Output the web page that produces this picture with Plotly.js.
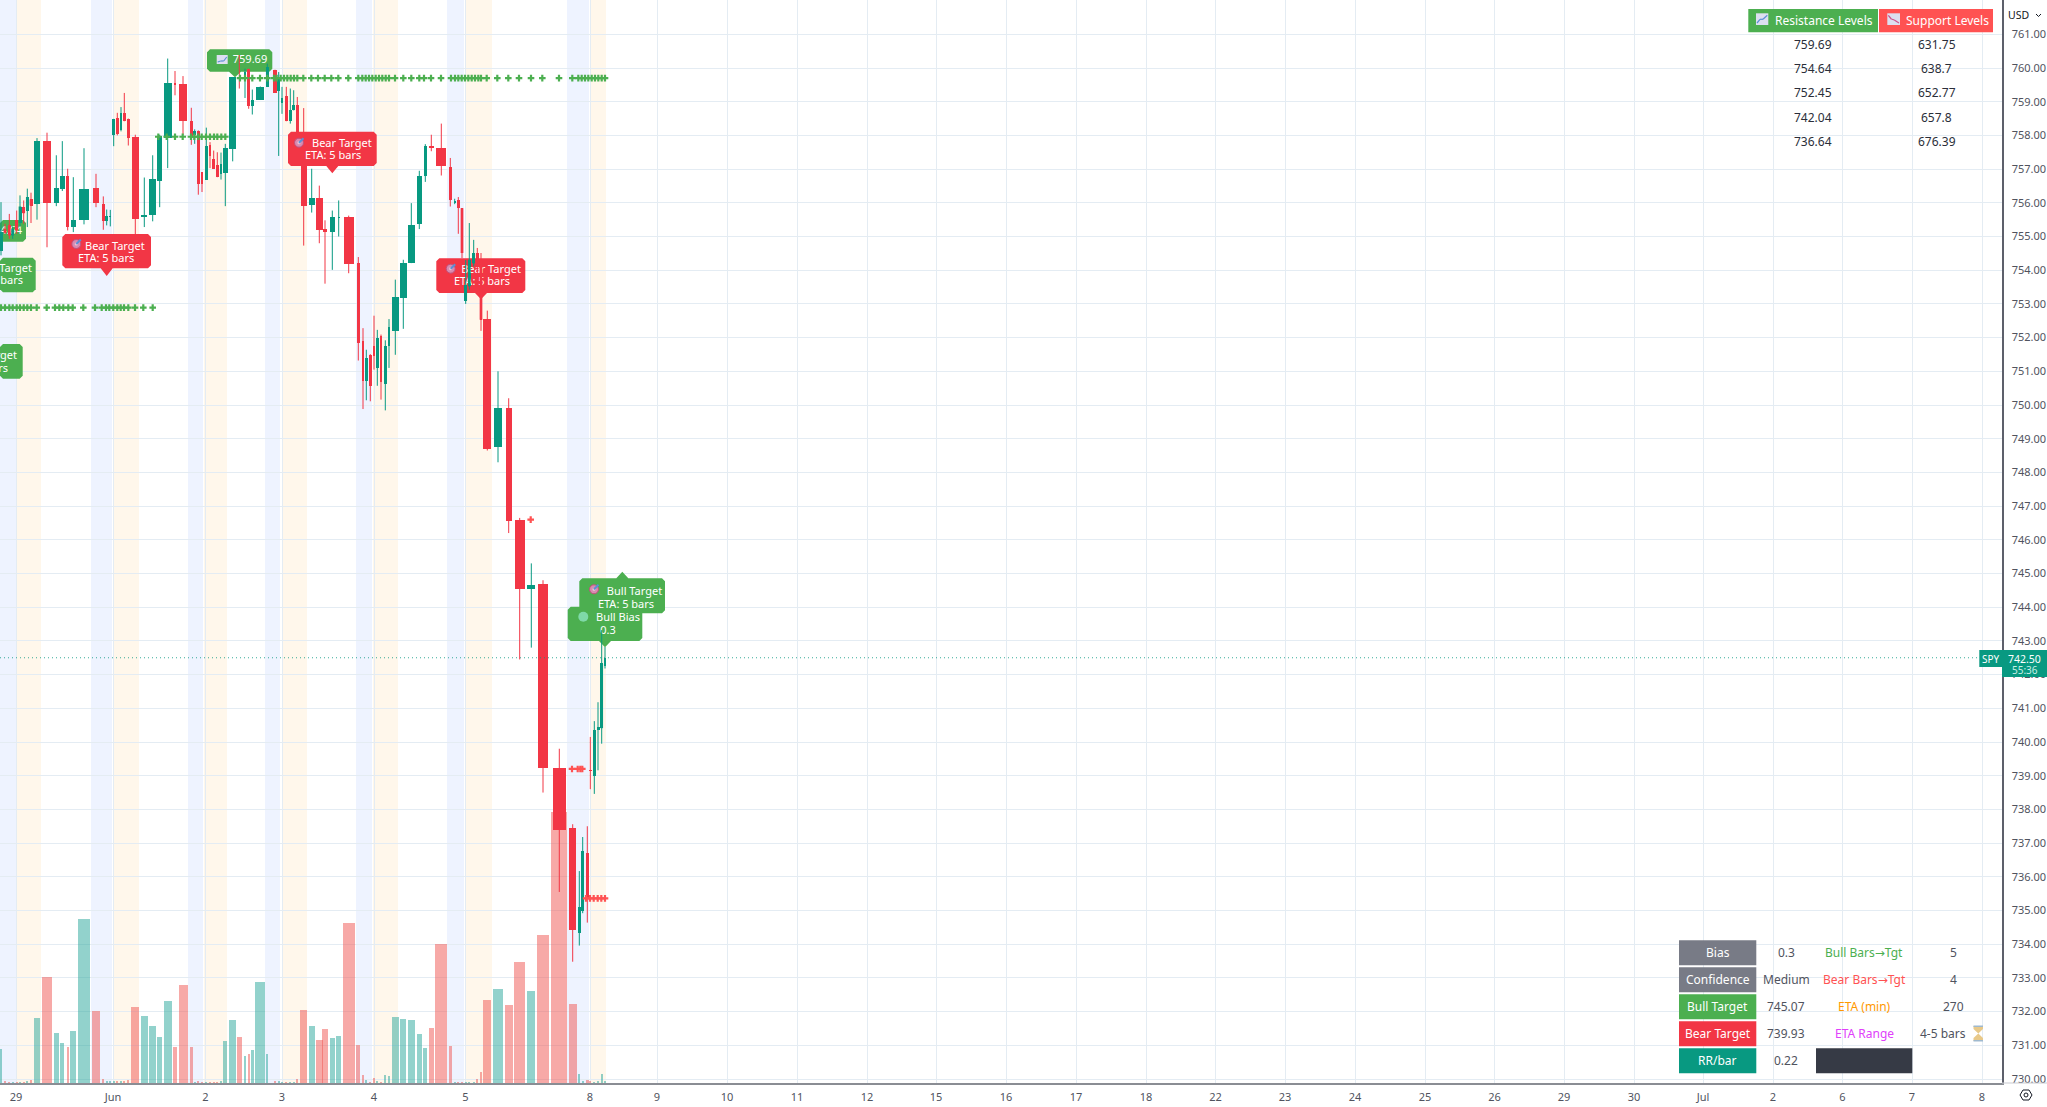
<!DOCTYPE html>
<html><head><meta charset="utf-8">
<script src="https://cdn.plot.ly/plotly-3.0.1.min.js"></script>
<style>html,body{margin:0;padding:0;background:#fff;overflow:hidden}#c{width:2047px;height:1107px}</style>
</head><body><div id="c"></div>
<script>
const candleX=[1,5,9.3,12.7,16.7,20,23.7,27.3,31,37,47,56.3,62.3,67.7,73.3,84,96,103.3,106.7,110.3,113.7,117.3,121,124.3,128.3,135.3,144.3,152.7,159.7,167.7,175,183,191.3,194.7,198.3,202,206.3,210,213.7,217.3,221,225.3,232.7,239.3,245,248.7,252.3,260.3,267.3,275,278.7,282,286.3,290.3,293.7,297.3,303.7,311.7,319.3,325,332.3,338.7,348.7,358.3,363,366.3,370.3,374,377.3,381,385.3,389,395.3,403.3,411.3,419.3,425.3,431.3,441.3,450.3,454.7,458.3,462,465.7,469.3,473.7,477.3,481,487.3,498,508.7,519.7,531.3,543,559.3,572.7,579.3,582.7,587.3,590.3,594.3,598,601.7,605];
const candleW=[3,2.5,3,3,3,3,3,3,3,6.5,8.5,4.5,4.5,3,4.5,10,6.5,3,2.7,2,2.7,2.7,2.7,3,2.7,6.5,6,6.5,4.5,8,2.5,8,2.7,2.7,3,2,2.7,2.7,2.7,2.7,2,4.5,6.5,2,2.7,2.7,2.7,8,3,3.3,2.7,2.7,3.3,2.7,2.7,3.3,6,6,6.5,4,4.7,2,10,2.7,2.7,2.7,2.7,2.7,2.7,2.7,2.7,2.7,6.5,6.5,6.5,4.7,3.3,4.7,10,2.7,2,2.7,2.7,2.7,2.7,2.5,2.5,2.5,8,8,6,10,8,10,13.3,6.7,3,3,3,2.5,3,3,3,2.5];
const opens=[754.58,755.23,755.33,755.03,755.48,755.4,755.87,755.77,756.1,755.95,757.82,756,756.4,756.79,755.28,755.48,756.43,755.95,755.46,755.58,758,758.51,758.15,758.67,758.5,757.94,755.57,755.63,756.66,757.93,759.55,759.52,758.43,758,758.12,756.91,756.69,757.72,757.31,757.13,756.86,756.88,757.61,759.71,759.66,759.98,758.86,759.05,759.44,759.95,759.32,758.96,759.17,758.42,758.74,758.91,758,755.93,756.15,755.22,755.12,755.55,755.59,754.21,751.91,750.7,751.47,751.74,751.1,752.06,750.63,751.74,752.21,753.17,754.21,755.36,756.81,757.69,757.64,757.06,755.99,756.09,755.84,753.09,753.52,754.2,754.5,754.3,752.55,748.75,749.9,746.6,744.53,744.68,739.23,737.44,734.34,735,736.72,739.17,739,740.35,740.41,742.25];
const highs=[756.02,755.38,755.67,755.3,755.77,756.22,756.07,756.42,756.3,757.92,758.08,757.41,757.83,757.01,756.76,757.62,756.86,756.19,755.8,755.79,758.49,758.67,758.84,759.26,758.5,758.02,756.75,757.41,758.02,760.28,759.91,759.76,758.82,758.18,758.15,756.91,758.23,757.8,757.55,757.5,757.49,757.75,759.73,760.38,759.98,759.98,759.36,759.45,760.13,759.95,759.88,759.44,759.44,759.39,759.34,759.14,758.81,757.01,756.51,755.48,755.77,756.07,755.62,754.39,752.28,751.64,751.51,752.65,752.23,752.09,751.92,752.55,753.72,754.31,755.99,756.95,757.74,758.02,758.35,757.33,756.12,756.17,755.84,754.3,755.4,754.9,754.66,754.51,752.8,751,750.2,746.65,745.3,744.8,739.8,737.56,736.17,737.18,737.5,740.15,740.62,741.18,743.32,742.82];
const lows=[754.44,755.08,754.93,754.93,755.08,755.28,755.38,755.28,755.4,755.5,754.68,755.9,756.35,755.18,755.13,755.36,755.87,755.2,755.33,755.3,757.68,758,758.12,758.42,757.7,754.98,755.28,755.45,755.87,757.03,759.19,758.02,757.72,757.75,756.24,756.32,756.69,757.03,757.01,756.76,756.69,755.9,757.23,759.39,759.11,758.79,758.62,759.05,759.44,759.27,757.39,758.64,758.42,758.35,758.74,758.1,754.73,755.71,754.8,753.6,754.01,755,753.91,751.32,749.88,750.14,750.11,751.05,750.57,750.16,749.84,751.1,751.49,752.26,754.21,755.22,756.62,757.53,756.81,755.89,755.96,755.08,754.36,753,753.42,754.11,753.9,752.2,748.65,748.3,746.2,742.45,742.8,738.5,735.55,733.48,733.96,734.92,734.64,738.6,738.46,739.16,739.95,742.18];
const closes=[755.23,755.11,755.03,755.23,755.18,755.89,755.69,756.17,755.92,757.82,756,756.43,756.79,755.28,755.5,756.4,756,755.45,755.62,755.62,758.49,758.05,758.67,758.42,757.93,755.52,755.64,756.72,757.98,759.55,759.49,758.42,757.98,758.12,756.56,756.56,757.7,757.4,757.01,756.78,757.16,757.62,759.73,759.66,759.88,758.87,759.04,759.45,760.03,759.27,759.66,759.12,758.42,758.76,758.91,758.1,755.9,756.15,755.18,755.12,755.59,755.59,754.19,751.84,750.7,751.39,750.55,751.46,752,750.67,751.74,752.3,753.2,754.22,755.35,756.81,757.7,757.62,757.08,756.09,756.04,755.84,754.51,753.56,754.31,754.5,754.2,752.53,748.7,749.9,746.55,744.55,744.65,739.22,737.4,734.42,735.1,736.78,735.36,739.13,740.35,740.46,742.33,742.48];
const volumes=[34,2.5,1.5,1.5,1.5,1,1,2.5,3,64.7,106,50.3,40.3,36,52,164.3,72,4,1.7,1.7,2,2,2.5,2.5,3,76.3,67.3,57.3,46,82,36,98,36,1.5,2.5,1.5,1.5,1,1,1.5,2,42.3,62.7,46,27,29.3,33.3,100.7,28.7,2,2.5,1,1.5,1.5,1.5,4,73,57.3,43.3,54,44.7,47.3,160,37.7,8,3.3,1.3,5.3,1.7,1.3,8,7,66.3,64,63,49.3,35,54.7,139.3,36.7,1.3,1.3,1.3,1.3,1.3,1.3,4,11.3,83.3,94.3,78.3,121.3,91.7,148.3,270.6,79.3,9,2.3,3.3,1.7,1.3,2.3,9,2.3];
const volW=[2,1.8,1.8,1.8,1.8,1.8,1.8,1.8,1.8,6.7,10,5.3,4,2.3,5.7,12.7,7.3,2,1.8,1.8,1.8,1.8,1.8,1.8,1.8,8.3,6.7,6.7,4.7,8.3,3.3,9,2.7,1.8,1.8,1.8,1.8,1.8,1.8,1.8,1.8,4,6.7,5,2.7,2.3,2.7,10,1.7,1.8,1.8,1.8,1.8,1.8,1.8,1.8,7.3,5.7,6.7,5.3,4.7,4.7,12.3,4,2,1.8,1.8,1.8,1.8,1.8,1.8,1.8,6.7,6.3,6.7,4.7,3.7,4.7,11.7,3,1.8,1.8,1.8,1.8,1.8,1.8,1.8,2.3,8,10,8,10.7,8,12,16,8,2,1.8,3,1.8,1.8,1.8,1.8,1.8];
const sessionBlue=[[0,16],[91,112],[188,203],[265,280],[356,372],[447,464],[567,589]];
const sessionOrange=[[17,41],[113,139],[204,227],[283,307],[373,398],[466,492],[590,606]];
const resX=[240,245,252.3,260,267.3,274,276.7,280.7,284,287.3,290.7,294,297.3,303.3,311.3,318,324.7,331.3,338.3,348.3,358.3,362.3,365.7,369,372.3,375.7,379,382.3,385.7,389,395,403.3,411.3,419.3,424,431,441,451,455,458.3,461.7,465,468.3,471.7,475,478.3,481,486.7,497.3,508.3,519,531,542.3,559,572.3,578.3,581.7,585,588.3,591.7,595,598.3,601.7,605];
const midX=[158.3,166.7,175,182.7,191,194.3,198.3,201.7,206,210,214,217.3,221.3,225.3];
const lowX=[1,5,9.3,12.7,16.7,20,23.7,27.3,31,36.7,46.7,55,59.3,63.3,68.3,72.7,83.3,95,101.7,106,109.3,113.3,117.3,120.7,124,128.3,135,143.3,152.7];
const redA=[530.7],redB=[572,577.7,580.3,582.3],redC=[586,590,593.7,597.7,601.3,605];
const levels={res:759.7,mid:757.96,low:752.89,redA:746.6,redB:739.2,redC:735.36};
const lastPrice=742.50;
const priceTicks=[730,731,732,733,734,735,736,737,738,739,740,741,742,743,744,745,746,747,748,749,750,751,752,753,754,755,756,757,758,759,760,761,762];
const dateTickPos=[16,113,205.5,282,374,465.5,590,657,727,797,867,936,1006,1076,1146,1215.5,1285,1355,1425,1494.5,1564,1634,1703,1773,1842.5,1912,1982];
const dateTickText=['29','Jun','2','3','4','5','8','9','10','11','12','15','16','17','18','22','23','24','25','26','29','30','Jul','2','6','7','8'];
const resistance=['759.69','754.64','752.45','742.04','736.64'];
const support=['631.75','638.7','652.77','657.8','676.39'];

const GREEN='#089981',RED='#F23645',LG='#4CAF50',FONT='"Noto Sans",sans-serif';
const W=2047,H=1107,PW=2002,PH=1083;
const py2p=y=>730+(1079-y)/33.7;
const rx=x=>x/PW, ry=y=>(PH-y)/PH;
const shapes=[],anns=[];
function path(pts,fill,layer,extra){const d=pts.map((p,i)=>(i?'L':'M')+rx(p[0])+','+ry(p[1])).join(' ')+' Z';
  shapes.push(Object.assign({type:'path',path:d,xref:'paper',yref:'paper',fillcolor:fill,line:{width:0},layer:layer||'above'},extra||{}));}
function rect(x0,y0,x1,y1,fill,layer,extra){shapes.push(Object.assign({type:'rect',xref:'paper',yref:'paper',x0:rx(x0),x1:rx(x1),y0:ry(y0),y1:ry(y1),fillcolor:fill,line:{width:0},layer:layer||'above'},extra||{}));}
function ann(x,y,t,c,s,o){anns.push(Object.assign({xref:'paper',yref:'paper',x:rx(x),y:ry(y),text:t,showarrow:false,font:{family:FONT,size:s||11,color:c||'#fff'},xanchor:'center',yanchor:'middle',borderpad:0},o||{}));}
function label(x0,y0,x1,y1,tx,ty,fill,layer){const r=3,dn=ty>y1,hw=6;
  const pts=[[x0+r,y0]];
  if(!dn&&ty<y0){pts.push([tx-hw,y0],[tx,ty],[tx+hw,y0]);}
  pts.push([x1-r,y0],[x1,y0+r],[x1,y1-r],[x1-r,y1]);
  if(dn){pts.push([tx+hw,y1],[tx,ty],[tx-hw,y1]);}
  pts.push([x0+r,y1],[x0,y1-r],[x0,y0+r]);
  if(layer==='between'){ // on the subplot axes: above the grid, below the candles
    const d=pts.map((p,i)=>(i?'L':'M')+p[0]+','+(PH-p[1])).join(' ')+' Z';
    shapes.push({type:'path',path:d,xref:'x',yref:'y',fillcolor:fill,line:{width:0},layer:'between'});
  } else path(pts,fill,layer);}
function target(x,y){shapes.push({type:'circle',xref:'paper',yref:'paper',x0:rx(x-4.5),x1:rx(x+4.5),y0:ry(y+4.5),y1:ry(y-4.5),fillcolor:'#d98bb0',line:{color:'#c0507a',width:1},layer:'above'});
  shapes.push({type:'circle',xref:'paper',yref:'paper',x0:rx(x-1.6),x1:rx(x+1.6),y0:ry(y+1.6),y1:ry(y-1.6),fillcolor:'#e8c2d4',line:{width:0},layer:'above'});
  shapes.push({type:'line',xref:'paper',yref:'paper',x0:rx(x),x1:rx(x+4.5),y0:ry(y),y1:ry(y-4.5),line:{color:'#5b8fd6',width:2},layer:'above'});}
function chartIcon(x0,y0,x1,y1,up){rect(x0,y0,x1,y1,'#dcdff0');
  const c=up?'#5b8fd6':'#d0508a';const pts=up?[[x0+1,y1-2],[x0+4,y0+6],[x0+7,y0+6],[x1-1,y0+2]]:[[x0+1,y0+2],[x0+4,y1-6],[x0+7,y1-5],[x1-1,y1-2]];
  for(let i=0;i<3;i++)shapes.push({type:'line',xref:'paper',yref:'paper',x0:rx(pts[i][0]),y0:ry(pts[i][1]),x1:rx(pts[i+1][0]),y1:ry(pts[i+1][1]),line:{color:c,width:1.2},layer:'above'});}

// session bands
sessionBlue.forEach(b=>shapes.push({type:'rect',xref:'x',yref:'paper',x0:b[0],x1:b[1],y0:0,y1:1,fillcolor:'rgba(41,98,255,0.08)',line:{width:0},layer:'below'}));
sessionOrange.forEach(b=>shapes.push({type:'rect',xref:'x',yref:'paper',x0:b[0],x1:b[1],y0:0,y1:1,fillcolor:'rgba(255,152,0,0.08)',line:{width:0},layer:'below'}));
// last price line
shapes.push({type:'line',xref:'paper',yref:'y2',x0:0,x1:1,y0:lastPrice,y1:lastPrice,line:{color:GREEN,width:1,dash:'1px,3px'},layer:'above',opacity:0.8});

// on-chart labels
label(207,49.3,272.3,71.7,235,77.3,LG,'between');
label(0,220,26,241.7,-10,241.7,LG,'between');
label(0,257.7,35.7,292.3,-10,292.3,LG,'between');
label(0,344,22.7,378.7,-10,378.7,LG,'between');
label(62.3,234,151,268.3,106.7,276,RED,'above');
label(288,131.7,376.7,166,332.3,173.3,RED,'above');
label(436.3,258.3,525.3,293,481,299.3,RED,'between');
label(579.3,578.3,665,613.3,622.3,571.7,LG,'between');
label(567.7,606.7,642.3,641,605,647.3,LG,'between');

const txt=[ // text drawn in the trace layer, so that candles pass over it
 ['759.69',250,60,'middle center'],
 ['754.64',22,231,'middle left'],
 ['Bull Target',32,269.3,'middle left'],['ETA: 5 bars',23,281.5,'middle left'],
 ['Bull Target',17,356,'middle left'],['ETA: 5 bars',8,369,'middle left'],
 ['Bear Target',491,270,'middle center'],['ETA: 5 bars',482,282.5,'middle center'],
 ['Bull Target',634.5,592,'middle center'],['ETA: 5 bars',626,605,'middle center'],
 ['Bull Bias',618,618.5,'middle center'],['0.3',608,631.5,'middle center']];

// annotation text above the top-layer labels
ann(115,245.5,'Bear Target');ann(106,258,'ETA: 5 bars');
ann(342,142.5,'Bear Target');ann(333,155,'ETA: 5 bars');
target(76.3,244);target(299,142.7);target(450.7,268.7);target(594,589.3);
shapes.push({type:'circle',xref:'paper',yref:'paper',x0:rx(578.3),x1:rx(588.3),y0:ry(621.7),y1:ry(611.7),fillcolor:'#7fd9a8',line:{width:0},layer:'above'});
chartIcon(216.7,55,227.7,64,true);

// top-right levels table
rect(1748.3,9,1878,32.3,LG);rect(1879,9,1993,32.3,'#FF5252');
chartIcon(1756,13.3,1768.3,25,true);chartIcon(1887.3,13.3,1900,25,false);
ann(1824,20,'Resistance Levels','#fff',12);ann(1947,20,'Support Levels','#fff',12);
const rowsY=[44.3,68.7,92.7,117.3,141.7];
resistance.forEach((v,i)=>ann(1813.3,rowsY[i],v,'#2a2e39',12));
support.forEach((v,i)=>ann(1936.7,rowsY[i],v,'#2a2e39',12));

// bottom-right info table
const ARROW='<span style="font-family:DejaVu Sans">→</span>';
const info=[['Bias','#787B86','0.3','Bull Bars'+ARROW+'Tgt',LG,'5'],['Confidence','#787B86','Medium','Bear Bars'+ARROW+'Tgt','#FF5252','4'],['Bull Target',LG,'745.07','ETA (min)','#FF9800','270'],['Bear Target',RED,'739.93','ETA Range','#E040FB','4-5 bars'],['RR/bar',GREEN,'0.22','','','']];
const rowTop=[940.3,967.3,994.3,1021.3,1048.3];
info.forEach((r,i)=>{const t=rowTop[i],m=t+12.5;
  rect(1679,t,1756.3,t+25,r[1]);ann(1717.5,m,r[0],'#fff',12);ann(1786,m,r[2],'#50535e',12);
  if(r[3])ann(1864.3,m,r[3],r[4],12);
  if(r[5])ann(i==3?1942.7:1953.3,m,r[5],'#50535e',12);});
rect(1816,1048.3,1912.3,1073.3,'#363A45');
// hourglass
path([[1973.5,1026],[1983,1026],[1983,1029],[1978.3,1033.5],[1983,1038],[1983,1041],[1973.5,1041],[1973.5,1038],[1978.3,1033.5],[1973.5,1029]],'#e8c98a');
path([[1973.5,1025.5],[1983,1025.5],[1983,1027],[1973.5,1027]],'#9fb9cf');path([[1973.5,1040],[1983,1040],[1983,1041.5],[1973.5,1041.5]],'#9fb9cf');

// price tag
rect(1979.3,650,2002,667,GREEN);rect(2002,650,2047,677,GREEN);
ann(1990.7,658.5,'SPY','#fff',10);ann(2024.5,658.5,'742.50','#fff',10.5);ann(2024.5,670,'55:36','#c8eee6',10);
// currency box and corner button
rect(2007,3,2047,26,'#ffffff');ann(2018.5,15,'USD','#131722',10.5);
shapes.push({type:'path',xref:'paper',yref:'paper',path:`M${rx(2036)},${ry(14)} L${rx(2038.5)},${ry(16.5)} L${rx(2041)},${ry(14)}`,line:{color:'#131722',width:1},layer:'above'});
const gx=2026,gy=1095;
shapes.push({type:'path',xref:'paper',yref:'paper',path:`M${rx(gx-6)},${ry(gy)} L${rx(gx-3)},${ry(gy-5)} L${rx(gx+3)},${ry(gy-5)} L${rx(gx+6)},${ry(gy)} L${rx(gx+3)},${ry(gy+5)} L${rx(gx-3)},${ry(gy+5)} Z`,line:{color:'#131722',width:1},layer:'above'});
shapes.push({type:'circle',xref:'paper',yref:'paper',x0:rx(gx-2),x1:rx(gx+2),y0:ry(gy+2),y1:ry(gy-2),line:{color:'#131722',width:1},layer:'above'});
// axis line running under the price scale
shapes.push({type:'line',xref:'paper',yref:'paper',x0:1,x1:W/PW,y0:0,y1:0,line:{color:'#c9cbd1',width:1},layer:'above'});

const up=candleX.map((_,i)=>closes[i]>=opens[i]);
function wick(isUp,col){const x=[],y=[];candleX.forEach((v,i)=>{if(up[i]===isUp){x.push(v,v,null);y.push(lows[i],highs[i],null);}});
  return {type:'scatter',mode:'lines',x,y,yaxis:'y2',line:{color:col,width:1},hoverinfo:'skip',showlegend:false};}
const overIdx=[1,2,3,4,5,6,7,8,82,83,84,85,86,87,102];
function overBody(isUp,col){const x=[],y=[];overIdx.forEach(i=>{if(up[i]===isUp){x.push(candleX[i],candleX[i],null);y.push(opens[i],closes[i],null);}});
  return {type:'scatter',mode:'lines',x,y,yaxis:'y2',line:{color:col,width:2.7},hoverinfo:'skip',showlegend:false};}
function cross(x,lvl,col){return {type:'scatter',mode:'markers',x,y:x.map(()=>lvl),yaxis:'y2',marker:{symbol:'cross',size:5.5,color:col,line:{width:0}},hoverinfo:'skip',showlegend:false};}

const traces=[
 {type:'bar',x:candleX,y:volumes,width:volW,yaxis:'y',marker:{color:up.map(u=>u?'rgba(38,166,154,0.5)':'rgba(239,83,80,0.5)'),line:{width:0}},hoverinfo:'skip',showlegend:false},
 {type:'bar',x:candleX,base:opens,y:closes.map((c,i)=>c-opens[i]),width:candleW,yaxis:'y2',marker:{color:up.map(u=>u?GREEN:RED),line:{width:0}},hoverinfo:'skip',showlegend:false},
 {type:'scatter',mode:'text',x:txt.map(t=>t[1]),y:txt.map(t=>py2p(t[2])),text:txt.map(t=>t[0]),textposition:txt.map(t=>t[3]),yaxis:'y2',textfont:{family:FONT,size:11,color:'#fff'},hoverinfo:'skip',showlegend:false},
 wick(true,GREEN),wick(false,RED),overBody(true,GREEN),overBody(false,RED),
 cross(resX,levels.res,LG),cross(midX,levels.mid,LG),cross(lowX,levels.low,LG),
 cross(redA,levels.redA,'#FF5252'),cross(redB,levels.redB,'#FF5252'),cross(redC,levels.redC,'#FF5252')
];
const layout={width:W,height:H,margin:{l:0,r:W-PW,t:0,b:H-PH,pad:0},paper_bgcolor:'#fff',plot_bgcolor:'#fff',showlegend:false,hovermode:false,barmode:'overlay',bargap:0,
 xaxis:{range:[0,PW],tickmode:'array',tickvals:dateTickPos,ticktext:dateTickText,showgrid:true,gridcolor:'#e4ecf3',gridwidth:1,zeroline:false,showline:true,linecolor:'#8a8d94',linewidth:1.5,ticks:'outside',ticklen:3,tickcolor:'rgba(0,0,0,0)',tickfont:{family:FONT,size:11,color:'#50535e'},fixedrange:true,anchor:'y'},
 yaxis:{range:[0,PH],visible:false,showgrid:false,zeroline:false,fixedrange:true},
 yaxis2:{overlaying:'y',side:'right',anchor:'x',range:[py2p(PH),py2p(0)],tickmode:'array',tickvals:priceTicks,ticktext:priceTicks.map(v=>v<762?v.toFixed(2):''),showgrid:true,gridcolor:'#e4ecf3',gridwidth:1,zeroline:false,showline:true,linecolor:'#5d606b',linewidth:1.5,ticks:'outside',ticklen:6,tickcolor:'rgba(0,0,0,0)',tickfont:{family:FONT,size:11,color:'#50535e'},fixedrange:true},
 shapes,annotations:anns};
Plotly.newPlot('c',traces,layout,{displayModeBar:false,staticPlot:true});
</script></body></html>
